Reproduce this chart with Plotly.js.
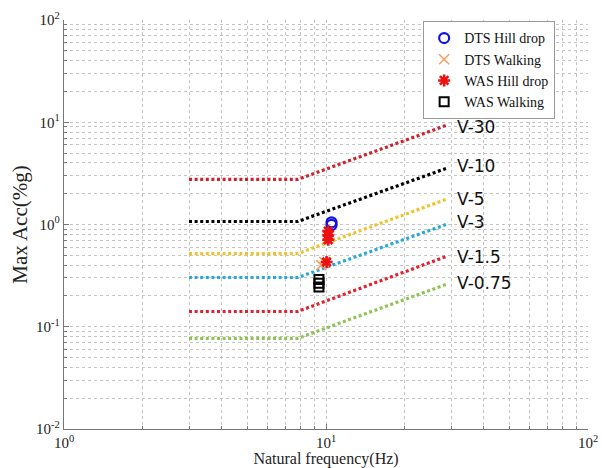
<!DOCTYPE html>
<html>
<head>
<meta charset="utf-8">
<script src="https://cdn.plot.ly/plotly-3.0.1.min.js"></script>
<style>html,body{margin:0;padding:0;background:#fff;}#chart{width:602px;height:468px;}</style>
</head>
<body>
<div id="chart"></div>
<script>
// Vibration criterion curves (frequency in Hz, acceleration in %g)
const curveFreq = [3, 7.8, 28.7];
const curveNames = ["V-30", "V-10", "V-5", "V-3", "V-1.5", "V-0.75"];
const curveV30  = [2.76, 2.76, 9.3];
const curveV10  = [1.07, 1.07, 3.53];
const curveV5   = [0.52, 0.52, 1.76];
const curveV3   = [0.303, 0.303, 1.0];
const curveV15  = [0.141, 0.141, 0.486];
const curveV075 = [0.077, 0.077, 0.259];
const curveColors = ["#d0202c", "#000000", "#f2c22a", "#27a9dc", "#e3202c", "#8fc454"];
const labelY = [9.0, 3.7, 1.76, 1.05, 0.48, 0.27];

// Measured points
const dtsHillFreq = [10.5, 10.5];
const dtsHillAcc  = [1.05, 0.99];
const dtsWalkFreq = [9.6, 9.85, 10.1];
const dtsWalkAcc  = [0.40, 0.43, 0.72];
const wasHillFreq = [10.2, 10.2, 10.2, 10.05];
const wasHillAcc  = [0.86, 0.78, 0.71, 0.43];
const wasWalkFreq = [9.4, 9.4, 9.4];
const wasWalkAcc  = [0.29, 0.266, 0.245];

// Tick labels
const xTickVals = [1, 10, 100];
const xTickText = ["10<sup>0</sup>", "10<sup>1</sup>", "10<sup>2</sup>"];
const yTickVals = [0.01, 0.1, 1, 10, 100];
const yTickText = ["10<sup>-2</sup>", "10<sup>-1</sup>", "10<sup>0</sup>", "10<sup>1</sup>", "10<sup>2</sup>"];

const curveData = [curveV30, curveV10, curveV5, curveV3, curveV15, curveV075];
const traces = [];
curveData.forEach((ys, i) => {
  traces.push({
    x: curveFreq, y: ys, type: "scatter", mode: "lines",
    line: {color: curveColors[i], width: 3.2, dash: "3px,2.6px"},
    showlegend: false, hoverinfo: "skip"
  });
});
traces.push({x: dtsHillFreq, y: dtsHillAcc, name: "DTS Hill drop", type: "scatter", mode: "markers",
  marker: {symbol: "circle-open", size: 10, color: "#1010e0", line: {width: 2.2, color: "#1010e0"}}});
traces.push({x: dtsWalkFreq, y: dtsWalkAcc, name: "DTS Walking", type: "scatter", mode: "markers",
  marker: {symbol: "x-thin-open", size: 10, color: "#f4a060", line: {width: 1.6, color: "#f4a060"}}});
traces.push({x: wasHillFreq, y: wasHillAcc, name: "WAS Hill drop", type: "scatter", mode: "markers",
  marker: {symbol: "asterisk-open", size: 10, color: "#ee1111", line: {width: 2.6, color: "#ee1111"}}});
traces.push({x: wasWalkFreq, y: wasWalkAcc, name: "WAS Walking", type: "scatter", mode: "markers",
  marker: {symbol: "square-open", size: 9, color: "#000000", line: {width: 2, color: "#000000"}}});

const annotations = curveNames.map((n, i) => ({
  x: Math.log10(31.0), y: Math.log10(labelY[i]), xref: "x", yref: "y",
  text: n, showarrow: false, xanchor: "left", yanchor: "middle",
  font: {family: "DejaVu Sans, sans-serif", size: 17, color: "#111"}
}));

const gridCol = "#c4c4c4";
const axisCommon = {
  type: "log", showline: true, linecolor: "#777", linewidth: 1.2,
  ticks: "inside", ticklen: 5, tickcolor: "#777",
  showgrid: true, gridcolor: gridCol, griddash: "dot", gridwidth: 1,
  zeroline: false, mirror: false,
  tickfont: {family: "Liberation Serif, Times New Roman, serif", size: 15, color: "#222"},
  minor: {showgrid: true, gridcolor: gridCol, griddash: "dot", gridwidth: 1, ticks: "inside", ticklen: 3, tickcolor: "#777"}
};

const layout = {
  width: 602, height: 468,
  margin: {l: 64, r: 14, t: 20, b: 39},
  paper_bgcolor: "#fff", plot_bgcolor: "#fff",
  showlegend: true,
  xaxis: Object.assign({}, axisCommon, {
    range: [0, 2], tickvals: xTickVals, ticktext: xTickText, tickmode: "array",
    title: {text: "Natural frequency(Hz)", standoff: 2,
      font: {family: "Liberation Serif, Times New Roman, serif", size: 16, color: "#222"}}
  }),
  yaxis: Object.assign({}, axisCommon, {
    range: [-2, 2], tickvals: yTickVals, ticktext: yTickText, tickmode: "array",
    title: {text: "Max Acc(%g)", standoff: 2,
      font: {family: "Liberation Serif, Times New Roman, serif", size: 21, color: "#222"}}
  }),
  legend: {
    x: 0.685, y: 0.997, xanchor: "left", yanchor: "top",
    bgcolor: "#fff", bordercolor: "#999", borderwidth: 1.2,
    font: {family: "Liberation Serif, Times New Roman, serif", size: 14, color: "#111"},
    tracegroupgap: 0, itemwidth: 30
  },
  annotations: annotations
};

layout.xaxis.minor.dtick = "D1";
layout.yaxis.minor.dtick = "D1";

Plotly.newPlot("chart", traces, layout, {displayModeBar: false, staticPlot: true});
</script>
</body>
</html>
